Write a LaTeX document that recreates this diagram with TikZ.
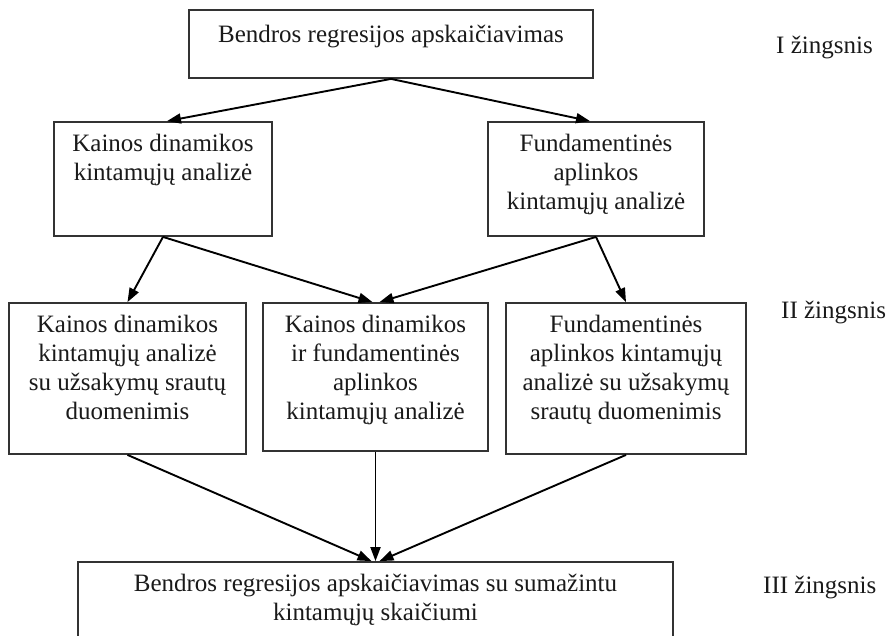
\documentclass[tikz,border=0pt]{standalone}
\usepackage{fontspec}
\setmainfont{Liberation Serif}
\usetikzlibrary{arrows.meta}
\definecolor{boxgray}{HTML}{333333}
\definecolor{textgray}{HTML}{1A1A1A}
\begin{document}
\begin{tikzpicture}[x=1pt,y=-1pt,
  box/.style={draw=boxgray, line width=1.8pt, rectangle, inner sep=0pt},
  txt/.style={align=center, inner sep=0pt, anchor=north, text=textgray,
    font=\fontsize{25}{29}\selectfont, execute at begin node={\strut}},
  steplabel/.style={anchor=base west, inner sep=0pt, text=textgray,
    font=\fontsize{25}{29}\selectfont},
  link/.style={line width=1.9pt, -{Triangle[length=14pt,width=10pt]}}
]
\fill[white] (0,0) rectangle (894,635);
\useasboundingbox (0,0) rectangle (894,635);

% step I
\node[box, minimum width=404pt, minimum height=68pt] (top) at (391,44) {};
\node[txt] (toptxt) at (391,21.7) {Bendros regresijos apskaičiavimas};

% first split
\node[box, minimum width=218pt, minimum height=114pt] (l2a) at (163,179) {};
\node[txt] (l2atxt) at (163,133.7) {Kainos dinamikos\\kintamųjų analizė};
\node[box, minimum width=216pt, minimum height=114pt] (l2b) at (596,179) {};
\node[txt] (l2btxt) at (596,133.7) {Fundamentinės\\aplinkos\\kintamųjų analizė};

% step II
\node[box, minimum width=237pt, minimum height=151pt] (l3a) at (127.5,378.5) {};
\node[txt] (l3atxt) at (127.5,314.7) {Kainos dinamikos\\kintamųjų analizė\\su užsakymų srautų\\duomenimis};
\node[box, minimum width=225pt, minimum height=148pt] (l3b) at (375.5,377) {};
\node[txt] (l3btxt) at (375.5,314.7) {Kainos dinamikos\\ir fundamentinės\\aplinkos\\kintamųjų analizė};
\node[box, minimum width=240pt, minimum height=151pt] (l3c) at (626,378.5) {};
\node[txt] (l3ctxt) at (626,314.7) {Fundamentinės\\aplinkos kintamųjų\\analizė su užsakymų\\srautų duomenimis};

% step III
\node[box, minimum width=595pt, minimum height=88pt] (bot) at (375.5,606) {};
\node[txt] (bottxt) at (375.5,573.7) {Bendros regresijos apskaičiavimas su sumažintu\\kintamųjų skaičiumi};

% step labels
\node[steplabel] (s1) at (776,53) {I žingsnis};
\node[steplabel] (s2) at (781,318) {II žingsnis};
\node[steplabel] (s3) at (763,593) {III žingsnis};

% connectors
\draw[link] (top.south) -- ([xshift=4pt]l2a.north);
\draw[link] (top.south) -- ([xshift=-6pt]l2b.north);
\draw[link] (l2a.south) -- (l3a.north);
\draw[link] (l2a.south) -- ([xshift=-3pt]l3b.north);
\draw[link] (l2b.south) -- ([xshift=4pt]l3b.north);
\draw[link] (l2b.south) -- (l3c.north);
\draw[link] (l3a.south) -- ([xshift=-4pt]bot.north);
\draw[link] (l3b.south) -- (bot.north);
\draw[link] (l3c.south) -- ([xshift=4pt]bot.north);
\end{tikzpicture}
\end{document}
